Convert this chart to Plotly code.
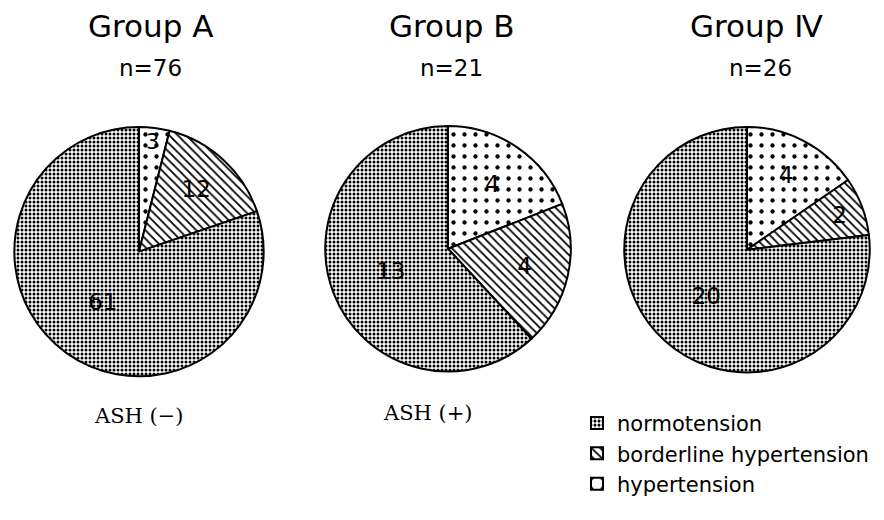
import plotly.graph_objects as go

groups = ["Group A", "Group B", "Group Ⅳ"]
n_labels = ["n=76", "n=21", "n=26"]
sub_labels = ["ASH (−)", "ASH (+)", ""]
categories = ["hypertension", "borderline hypertension", "normotension"]
group_a = [3, 12, 61]
group_b = [4, 4, 13]
group_iv = [4, 2, 20]

series = [group_a, group_b, group_iv]
W, H = 868, 496
OFF = 8  # page body margin


def px(x):
    return min(1.0, max(0.0, (x - OFF) / W))


def py(y):
    return min(1.0, max(0.0, 1 - (y - OFF) / H))


# pie boxes in screen pixels (left, top, size)
boxes = [(8, 133, 262), (319, 132, 258), (618, 133, 258)]

pattern = dict(shape=[".", "\\", "."], size=[11, 6, 4], solidity=[0.12, 0.3, 0.45],
               fgcolor="black", bgcolor="white", fillmode="replace")

fig = go.Figure()
for i, vals in enumerate(series):
    l, t, s = boxes[i]
    fig.add_trace(go.Pie(
        labels=categories,
        values=vals,
        sort=False,
        direction="clockwise",
        rotation=0,
        text=[str(v) for v in vals],
        textinfo="text",
        textposition="inside",
        insidetextorientation="horizontal",
        textfont=dict(family="DejaVu Sans", size=23, color="black"),
        marker=dict(colors=["white"] * 3, pattern=pattern,
                    line=dict(color="black", width=2)),
        domain=dict(x=[px(l), px(l + s)], y=[py(t + s), py(t)]),
        showlegend=(i == 0),
        hoverinfo="label+value",
    ))

annotations = []
title_x = [150, 452, 756]
n_x = [150, 451, 760]
for i in range(3):
    annotations.append(dict(text=groups[i], x=px(title_x[i]), y=py(27),
                            xref="paper", yref="paper", xanchor="center", yanchor="middle",
                            showarrow=False, font=dict(family="DejaVu Sans", size=31, color="black")))
    annotations.append(dict(text=n_labels[i], x=px(n_x[i]), y=py(71),
                            xref="paper", yref="paper", xanchor="center", yanchor="middle",
                            showarrow=False, font=dict(family="DejaVu Sans", size=23, color="black")))
sub_x = [139, 428]
sub_y = [437, 434]
for i in range(2):
    annotations.append(dict(text=sub_labels[i], x=px(sub_x[i]), y=py(sub_y[i]),
                            xref="paper", yref="paper", xanchor="center", yanchor="middle",
                            showarrow=False, font=dict(family="DejaVu Serif", size=21, color="black")))

fig.update_layout(
    width=W, height=H,
    margin=dict(l=0, r=0, t=0, b=0),
    paper_bgcolor="white",
    plot_bgcolor="white",
    annotations=annotations,
    legend=dict(x=px(577), y=py(423), xanchor="left", yanchor="top",
                traceorder="reversed",
                font=dict(family="DejaVu Sans", size=21, color="black"),
                itemsizing="constant", tracegroupgap=0, bgcolor="rgba(0,0,0,0)"),
)
fig.write_html("out.html")
